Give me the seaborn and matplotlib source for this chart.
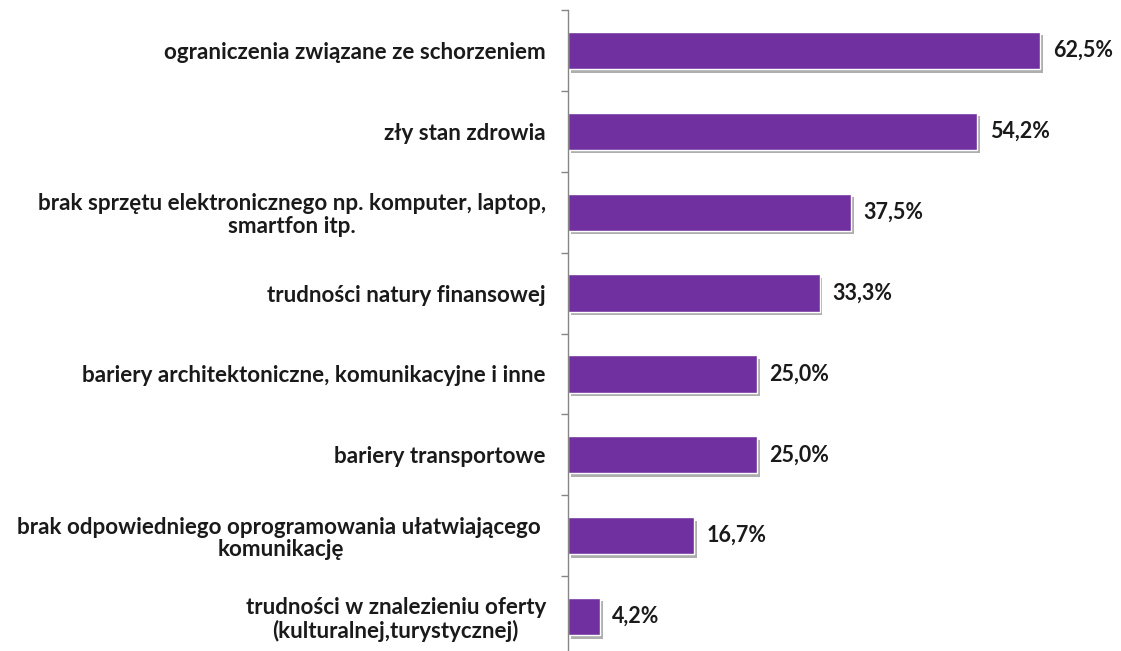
import matplotlib
matplotlib.use("Agg")
import matplotlib.pyplot as plt
import matplotlib.patheffects as pe
import numpy as np
import pandas as pd
import seaborn as sns

categories = [
    "ograniczenia związane ze schorzeniem",
    "zły stan zdrowia",
    "brak sprzętu elektronicznego np. komputer, laptop,\nsmartfon itp.",
    "trudności natury finansowej",
    "bariery architektoniczne, komunikacyjne i inne",
    "bariery transportowe",
    "brak odpowiedniego oprogramowania ułatwiającego \nkomunikację",
    "trudności w znalezieniu oferty\n(kulturalnej,turystycznej)",
]
values = [62.5, 54.2, 37.5, 33.3, 25.0, 25.0, 16.7, 4.2]
value_labels = ["62,5%", "54,2%", "37,5%", "33,3%", "25,0%", "25,0%", "16,7%", "4,2%"]

sns.set_style("white")
plt.rcParams["font.family"] = ["Lato", "DejaVu Sans"]

df = pd.DataFrame({"kategoria": categories, "procent": values})

fig = plt.figure(figsize=(11.21, 6.51), dpi=100)
ax = fig.add_axes([568 / 1121, -6 / 651, 553 / 1121, 647 / 651])

sns.barplot(data=df, y="kategoria", x="procent", orient="h", color="#7030A0",
            saturation=1, width=0.46, ax=ax)

for bar in ax.patches:
    bar.set_path_effects([
        pe.SimplePatchShadow(offset=(2, -2.5), shadow_rgbFace="#9a9a9a", alpha=0.8),
        pe.Normal(),
    ])

ax.bar_label(ax.containers[0], labels=value_labels, padding=9,
             fontsize=15.5, fontweight="bold", color="#1a1a1a")

ax.set_xlim(0, 73.2)
ax.set_ylim(len(categories) - 0.5, -0.5)
ax.set_xlabel("")
ax.set_ylabel("")
ax.set_xticks([])

for label in ax.get_yticklabels():
    label.set_multialignment("center")
    label.set_linespacing(1.08)
    label.set_fontweight("bold")
    label.set_fontsize(16.1)
    label.set_color("#1a1a1a")

ax.tick_params(axis="y", which="major", left=False, length=0, pad=16)
ax.set_yticks(np.arange(-0.5, len(categories), 1.0), minor=True)
ax.tick_params(axis="y", which="minor", left=True, length=5, width=1, color="#868686")

for side in ["top", "right", "bottom"]:
    ax.spines[side].set_visible(False)
ax.spines["left"].set_color("#868686")
ax.spines["left"].set_linewidth(1)

fig.savefig("out.png", dpi=100)
